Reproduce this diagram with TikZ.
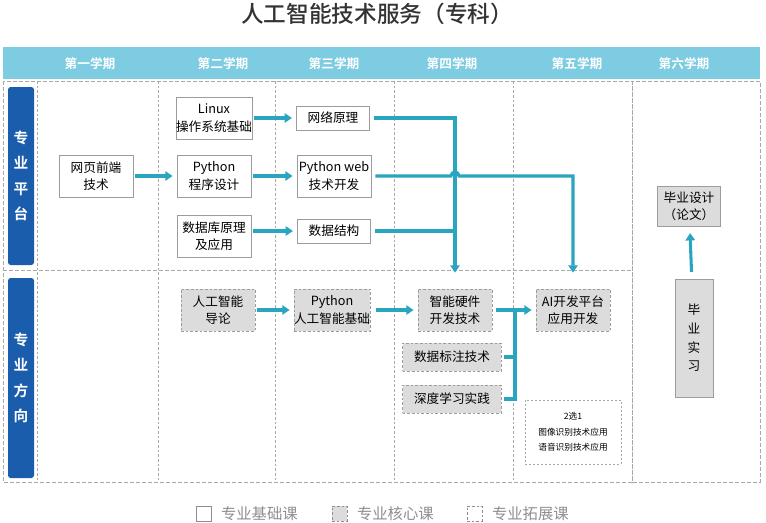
\documentclass[tikz,border=0pt]{standalone}
\usepackage{fontspec}
\setmainfont{Noto Sans CJK SC}[BoldFont={Noto Sans CJK SC Bold}]
\newfontfamily\titlefont{Noto Sans CJK SC Medium}
\usepackage{tikz}
\usetikzlibrary{arrows.meta}
\usetikzlibrary{positioning}
\usetikzlibrary{calc}
\definecolor{hdrblue}{HTML}{7ECCE2}
\definecolor{sideblue}{HTML}{1B5DAD}
\definecolor{flowteal}{HTML}{2AA5C0}
\definecolor{boxgray}{HTML}{9C9C9C}
\definecolor{coregray}{HTML}{DCDCDC}
\definecolor{gridgray}{HTML}{A8A8A8}
\definecolor{legendgray}{HTML}{8E8E8E}

\tikzset{
  basebox/.style={draw=boxgray, fill=white, line width=0.6pt, align=center,
    minimum width=55.5pt, minimum height=31.5pt, inner sep=0pt,
    font=\fontsize{9.5}{13}\selectfont},
  smallbox/.style={basebox, minimum width=55pt, minimum height=18pt},
  corebox/.style={basebox, fill=coregray, dashed, dash pattern=on 2pt off 1.5pt},
  widebox/.style={corebox, minimum width=74pt, minimum height=21pt},
  extbox/.style={draw=gridgray, dash pattern=on 1.5pt off 1.5pt, line width=0.6pt,
    align=center, minimum width=72pt, minimum height=48pt, inner sep=0pt,
    font=\fontsize{6.5}{11.5}\selectfont},
  sidebox/.style={fill=sideblue, rounded corners=2pt, text=white, align=center,
    minimum width=19.5pt, inner sep=0pt, font=\fontsize{11}{19}\bfseries},
  termhead/.style={text=white, font=\fontsize{9.5}{11}\bfseries},
  outergrid/.style={draw=gridgray, line width=0.7pt, dash pattern=on 3pt off 1.5pt},
  innergrid/.style={draw=gridgray, line width=0.5pt, dash pattern=on 2pt off 1.5pt},
  flow/.style={draw=flowteal, line width=2.3pt, -{Triangle[length=5.5pt,width=7pt]}},
  flowline/.style={draw=flowteal, line width=2.3pt},
  legendbox/.style={minimum size=11.25pt, inner sep=0pt, line width=0.6pt},
  legendtext/.style={text=legendgray, font=\fontsize{11.5}{13}\selectfont, inner sep=0pt}
}

\begin{document}
\begin{tikzpicture}[x=0.75pt, y=-0.75pt]
  \useasboundingbox (0,0) rectangle (766,522);

  \node (title) at (377,14) [text=black!80, font=\fontsize{17}{19}\titlefont] {人工智能技术服务（专科）};

  % header
  \fill [hdrblue] (3,47) rectangle (760,79);
  \node (t1) at (90,64)  [termhead] {第一学期};
  \node (t2) at (223,64) [termhead] {第二学期};
  \node (t3) at (334,64) [termhead] {第三学期};
  \node (t4) at (452,64) [termhead] {第四学期};
  \node (t5) at (577,64) [termhead] {第五学期};
  \node (t6) at (684,64) [termhead] {第六学期};

  % grid
  \draw [outergrid] (3,81) rectangle (632,482);
  \draw [outergrid] (3,270) -- (632,270);
  \draw [outergrid] (632,81) rectangle (760,482);
  \foreach \gx in {37,158,275,394,513}
    \draw [innergrid] (\gx,81) -- (\gx,482);

  \node (plat) at (21,176) [sidebox, minimum height=133.5pt] {专\\业\\平\\台};
  \node (dir)  at (21,378) [sidebox, minimum height=150pt] {专\\业\\方\\向};

  % platform courses
  \node (front)  at (96,176)  [basebox] {网页前端\\技术};
  \node (linux)  at (214,118) [basebox] {Linux\\操作系统基础};
  \node (pyprog) at (214,176) [basebox] {Python\\程序设计};
  \node (dbase)  at (214,236) [basebox] {数据库原理\\及应用};
  \node (net)    at (333,118) [smallbox] {网络原理};
  \node (pyweb)  at (334,176) [basebox] {Python web\\技术开发};
  \node (dstruct) at (334,231) [smallbox] {数据结构};

  % direction courses
  \node (intro) at (218,310) [corebox] {人工智能\\导论};
  \node (pyai)  at (332,310) [corebox] {Python\\人工智能基础};
  \node (hw)    at (455,310) [corebox] {智能硬件\\开发技术};
  \node (mark)  at (452,357) [widebox] {数据标注技术};
  \node (deep)  at (452,399) [widebox] {深度学习实践};
  \node (aiplat) at (573,310) [corebox] {AI开发平台\\应用开发};
  \node (pick)  at (573,432) [extbox] {2选1\\图像识别技术应用\\语音识别技术应用};

  \node (thesis) at (689,206) [basebox, fill=coregray, minimum width=47pt, minimum height=30pt] {毕业设计\\（论文）};
  \node (intern) at (694,338) [basebox, fill=coregray, minimum width=28.5pt, minimum height=88.5pt,
    font=\fontsize{9.5}{14}\selectfont] {毕\\业\\实\\习};

  \coordinate (fork) at (515,310);

  \draw [flow, shorten <=1pt, shorten >=3pt] (front) -- (pyprog);
  \draw [flow, shorten <=1pt, shorten >=3pt] (linux) -- (net);
  \draw [flow, shorten <=1pt, shorten >=3pt] (pyprog) -- (pyweb);
  \draw [flow, shorten <=1pt, shorten >=3pt] (dbase.east |- dstruct) -- (dstruct);
  \draw [flow, shorten <=3pt, shorten >=12pt] (net.east) -| (hw.north);
  \draw [flowline, shorten <=3pt] (dstruct.east) -- (dstruct.east -| hw.north);
  \draw [flow, shorten <=3pt, shorten >=12pt] (pyweb.east) -- ($(pyweb.east -| hw.north)+(-4,0)$)
    arc [start angle=180, end angle=0, radius=3pt] -- (pyweb.east -| aiplat.north) -- (aiplat.north);

  \draw [flow, shorten <=1pt, shorten >=3pt] (intro) -- (pyai);
  \draw [flow, shorten <=4pt, shorten >=3pt] (pyai) -- (hw);
  \draw [flow, shorten <=3pt, shorten >=3pt] (hw) -- (aiplat);
  \draw [flowline, shorten <=2pt] (mark.east) -- (mark.east -| fork);
  \draw [flowline, shorten <=2pt] (deep.east) -| (fork);
  \draw [flow, shorten <=5pt, shorten >=5pt] (intern) -- (thesis);

  % legend
  \node (lg1) at (203.5,513.5) [legendbox, draw=legendgray, fill=white] {};
  \node (lt1) [legendtext, right=7pt of lg1] {专业基础课};
  \node (lg2) at (339.5,513.5) [legendbox, draw=legendgray, fill=coregray, dash pattern=on 2pt off 1.5pt] {};
  \node (lt2) [legendtext, right=7pt of lg2] {专业核心课};
  \node (lg3) at (474.5,513.5) [legendbox, draw=legendgray, dash pattern=on 2pt off 1.5pt] {};
  \node (lt3) [legendtext, right=7pt of lg3] {专业拓展课};
\end{tikzpicture}
\end{document}
